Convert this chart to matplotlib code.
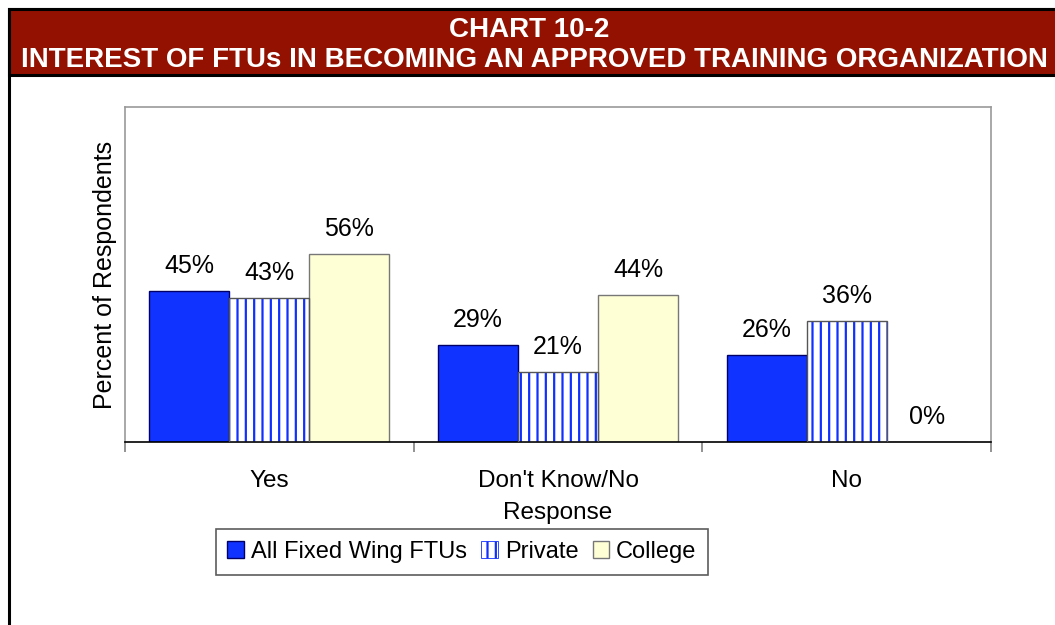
import matplotlib
matplotlib.use("Agg")
import matplotlib.pyplot as plt
from matplotlib.patches import Rectangle, Patch
import numpy as np

plt.rcParams["font.family"] = ["Liberation Sans", "DejaVu Sans"]
plt.rcParams["hatch.color"] = "#1030ff"
plt.rcParams["hatch.linewidth"] = 1.6

categories = ["Yes", "Don't Know/No\nResponse", "No"]
series_names = ["All Fixed Wing FTUs", "Private", "College"]
all_fixed = [45, 29, 26]
private = [43, 21, 36]
college = [56, 44, 0]

BLUE = "#1133ff"
YELLOW = "#ffffd5"
W, H = 1055, 625

fig = plt.figure(figsize=(W / 100, H / 100), dpi=100, facecolor="white")

# outer frame and title band
fig.patches.append(Rectangle((9 / W, -0.1), 1.2, 1.1 - 9 / H, transform=fig.transFigure,
                             facecolor="none", edgecolor="black", linewidth=2.2, zorder=0))
fig.patches.append(Rectangle((9 / W, 1 - 75 / H), 1.2, 66 / H, transform=fig.transFigure,
                             facecolor="#921100", edgecolor="black", linewidth=2.2, zorder=1))
fig.text(529 / W, 1 - 30 / H, "CHART 10-2", color="white", fontsize=20, fontweight="bold",
         ha="center", va="center")
fig.text(534 / W, 1 - 60 / H, "INTEREST OF FTUs IN BECOMING AN APPROVED TRAINING ORGANIZATION",
         color="white", fontsize=20, fontweight="bold", ha="center", va="center")

ax = fig.add_axes([125 / W, 1 - 442 / H, (991 - 125) / W, (442 - 107) / H], zorder=2)
x = np.arange(len(categories))
bw = 0.2775

b1 = ax.bar(x - bw, all_fixed, bw, color=BLUE, edgecolor="#000066", linewidth=1.0, zorder=2)
b2 = ax.bar(x, private, bw, color="white", edgecolor="#1030ff", linewidth=0, hatch="||", zorder=2)
ax.bar(x, private, bw, color="none", edgecolor="#555555", linewidth=1.0, zorder=3)
b3 = ax.bar(x + bw, college, bw, color=YELLOW, edgecolor="#777777", linewidth=1.0, zorder=2)

for bars, vals in [(b1, all_fixed), (b2, private), (b3, college)]:
    for bar, v in zip(bars, vals):
        ax.annotate(f"{v}%", xy=(bar.get_x() + bar.get_width() / 2, v), xytext=(0, 18),
                    textcoords="offset points", ha="center", va="center", fontsize=18)

ax.set_xlim(-0.5, 2.5)
ax.set_ylim(0, 100)
ax.set_yticks([])
ax.set_xticks(x)
ax.set_xticklabels(categories, fontsize=17.5, linespacing=1.6)
ax.tick_params(axis="x", which="major", length=0, pad=20)
ax.set_xticks([-0.5, 0.5, 1.5, 2.5], minor=True)
ax.tick_params(axis="x", which="minor", length=7, color="#808080", width=1.2)
for side in ["top", "right", "left"]:
    ax.spines[side].set_color("#999999")
    ax.spines[side].set_linewidth(1.2)
ax.spines["bottom"].set_color("black")
ax.spines["bottom"].set_linewidth(1.2)
ax.set_ylabel("Percent of Respondents", fontsize=18, labelpad=6)

handles = [
    Patch(facecolor=BLUE, edgecolor="#000066", linewidth=1.0),
    Patch(facecolor="white", edgecolor="#1030ff", hatch="||", linewidth=0.6),
    Patch(facecolor=YELLOW, edgecolor="#777777", linewidth=1.0),
]
leg = fig.legend(handles, series_names, loc="center", bbox_to_anchor=(462 / W, 1 - 552 / H),
                 ncol=3, fontsize=17, frameon=True, fancybox=False, edgecolor="#333333",
                 handlelength=0.7, handleheight=0.7, handletextpad=0.3, columnspacing=0.6,
                 borderpad=0.5, borderaxespad=0)
leg.get_frame().set_linewidth(1.2)

fig.savefig("out.png", dpi=100)
